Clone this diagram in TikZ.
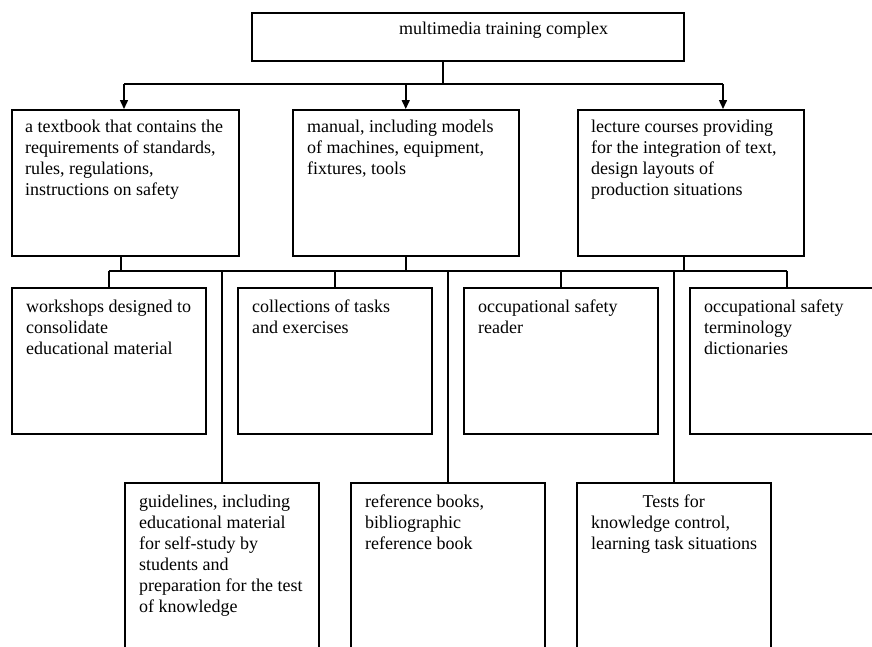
\documentclass[tikz,border=0pt]{standalone}
\usepackage{fontspec}
\setmainfont{Liberation Serif}
\usetikzlibrary{arrows.meta,calc}
\begin{document}
\begin{tikzpicture}[x=1pt,y=-1pt,
  box/.style={draw,line width=1.5pt,rectangle,inner sep=0pt,anchor=north west,minimum width=194pt,minimum height=146pt},
  txt/.style={anchor=north west,inner sep=0pt,align=left,font=\fontsize{18}{21}\selectfont},
  link/.style={line width=1.5pt},
  arr/.style={line width=1.5pt,-{Triangle[length=9pt,width=8pt]}}]
\useasboundingbox (0,0) rectangle (872,646);
\clip (0,0) rectangle (872,646);
\fill[white] (0,0) rectangle (872,646);
% boxes
\node[box,minimum width=432pt,minimum height=48pt] (top) at (251,12) {};
\node[box,minimum width=227pt] (b1) at (11,109) {};
\node[box,minimum width=226pt] (b2) at (292,109) {};
\node[box,minimum width=226pt] (b3) at (577,109) {};
\node[box] (c1) at (11,287) {};
\node[box] (c2) at (237,287) {};
\node[box] (c3) at (463,287) {};
\node[box] (c4) at (689,287) {};
\node[box,minimum height=200pt] (d1) at (124,482) {};
\node[box,minimum height=200pt] (d2) at (350,482) {};
\node[box,minimum height=200pt] (d3) at (576,482) {};
% texts (first line baseline = top + 14.7)
\node[txt] (ttop) at ($(top.north west)+(148,7.3)$) {\strut multimedia training complex};
\node[txt] (tb1) at ($(b1.north west)+(14,8.3)$) {\strut a textbook that contains the\\requirements of standards,\\rules, regulations,\\instructions on safety};
\node[txt] (tb2) at ($(b2.north west)+(15,8.3)$) {\strut manual, including models\\of machines, equipment,\\fixtures, tools};
\node[txt] (tb3) at ($(b3.north west)+(14,8.3)$) {\strut lecture courses providing\\for the integration of text,\\design layouts of\\production situations};
\node[txt] (tc1) at ($(c1.north west)+(15,10.3)$) {\strut workshops designed to\\consolidate\\educational material};
\node[txt] (tc2) at ($(c2.north west)+(15,10.3)$) {\strut collections of tasks\\and exercises};
\node[txt] (tc3) at ($(c3.north west)+(15,10.3)$) {\strut occupational safety\\reader};
\node[txt] (tc4) at ($(c4.north west)+(15,10.3)$) {\strut occupational safety\\terminology\\dictionaries};
\node[txt] (td1) at ($(d1.north west)+(15,10.3)$) {\strut guidelines, including\\educational material\\for self-study by\\students and\\preparation for the test\\of knowledge};
\node[txt] (td2) at ($(d2.north west)+(15,10.3)$) {\strut reference books,\\bibliographic\\reference book};
\node[txt] (td3) at ($(d3.north west)+(15,10.3)$) {\strut\makebox[165pt][c]{Tests for}\\knowledge control,\\learning task situations};
% upper bus
\coordinate (tj) at (443,84);
\coordinate (busL) at (124,84);
\coordinate (busR) at (723,84);
\draw[link] (top.south -| tj) -- (tj);
\draw[link] (busL) -- (busR);
\draw[arr] (busL) -- (busL |- b1.north);
\draw[arr] (b2.north |- busL) -- (b2.north);
\draw[arr] (busR) -- (busR |- b3.north);
% lower bus
\coordinate (j1) at (121,271);
\coordinate (j2) at (406,271);
\coordinate (j3) at (684,271);
\draw[link] (j1 |- b1.south) -- (j1);
\draw[link] (j2 |- b2.south) -- (j2);
\draw[link] (j3 |- b3.south) -- (j3);
\draw[link] (c1.north |- j1) -- (c4.north |- j1);
\draw[link] (c1.north |- j1) -- (c1.north);
\draw[link] (d1.north |- j1) -- (d1.north);
\draw[link] (c2.north |- j1) -- (c2.north);
\draw[link] (d2.north |- j1) -- (d2.north);
\draw[link] (c3.north |- j1) -- (c3.north);
\draw[link] (d3.north |- j1) -- (d3.north);
\draw[link] (c4.north |- j1) -- (c4.north);
\end{tikzpicture}
\end{document}
